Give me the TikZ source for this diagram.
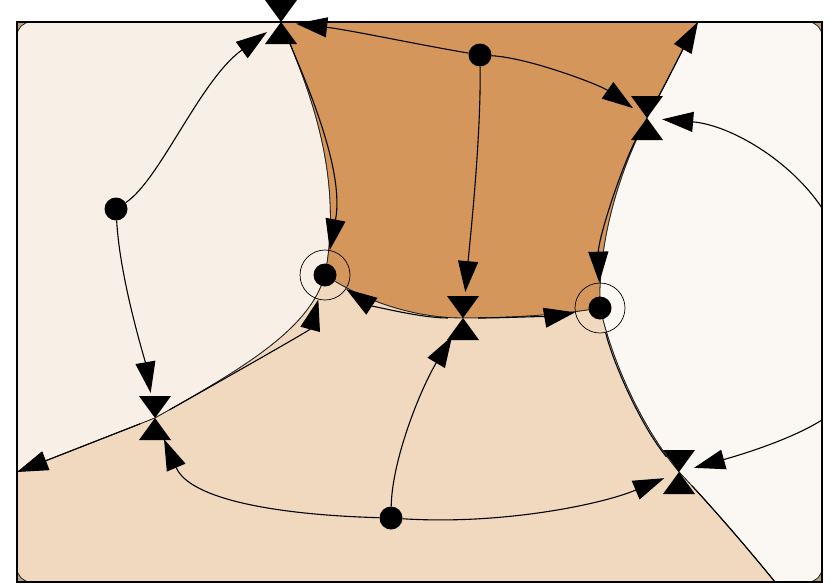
\documentclass[tikz,border=0pt]{standalone}
\usetikzlibrary{arrows.meta,shapes.geometric}
\definecolor{brownreg}{RGB}{212,150,90}
\definecolor{lightreg}{RGB}{248,240,230}
\definecolor{rightreg}{RGB}{251,248,243}
\definecolor{tanreg}{RGB}{240,217,190}
\definecolor{cornercol}{RGB}{190,160,120}
\begin{document}
\begin{tikzpicture}[x=1pt,y=-1pt,
  conn/.style={line width=1.1pt, draw=black},
  arr/.style={conn, -{Triangle[length=31pt,width=20pt]}},
  saddle/.style={ellipse, minimum width=30pt, minimum height=52pt, inner sep=0pt},
  fixpt/.style={circle, fill=black, minimum size=23pt, inner sep=0pt},
  ringpt/.style={circle, draw=black, line width=0.7pt, minimum size=50pt, inner sep=0pt},
  border/.style={draw=black!85, line width=0.8pt}
]
\useasboundingbox (0,0) rectangle (830,584);
\fill[white] (0,0) rectangle (830,584);
\fill[cornercol] (17,22) rectangle (822,582);
% top-left region
\path[fill=lightreg, border] (17,300) [rounded corners=14pt] -- (17,22) -- (150,22) [sharp corners] -- (281,22)
  .. controls (305,80) and (345,170) .. (325,275)
  .. controls (310,330) and (240,370) .. (155,418) -- (17,472) -- cycle;
% brown region
\path[fill=brownreg, border] (281,22) -- (698,22)
  .. controls (685,45) and (665,85) .. (647,118)
  .. controls (620,170) and (598,240) .. (600,308)
  .. controls (560,315) and (510,318) .. (463,318)
  .. controls (420,318) and (370,305) .. (325,275)
  .. controls (345,170) and (305,80) .. (281,22) -- cycle;
% right region
\path[fill=rightreg, border] (698,22) -- (760,22) [rounded corners=14pt] -- (822,22) -- (822,582) -- (800,582) [sharp corners] -- (775,582)
  .. controls (745,545) and (710,505) .. (679,472)
  .. controls (640,425) and (612,360) .. (600,308)
  .. controls (598,240) and (620,170) .. (647,118)
  .. controls (665,85) and (685,45) .. (698,22) -- cycle;
% bottom region
\path[fill=tanreg, border] (17,472) -- (17,530) [rounded corners=14pt] -- (17,582) -- (400,582) [sharp corners] -- (775,582)
  .. controls (745,545) and (710,505) .. (679,472)
  .. controls (640,425) and (612,360) .. (600,308)
  .. controls (560,315) and (510,318) .. (463,318)
  .. controls (420,318) and (370,305) .. (325,275)
  .. controls (310,330) and (240,370) .. (155,418) -- cycle;
\draw[line width=1.3pt] (17,22) rectangle (822,582);

% nodes
\node[fixpt] (A) at (480,55) {};
\node[fixpt] (B) at (116,209) {};
\node[ringpt] (C) at (325,275) {};
\node[ringpt] (D) at (600,308) {};
\node[fixpt] (Cdot) at (C.center) {};
\node[fixpt] (Ddot) at (D.center) {};
\node[fixpt] (E) at (391,518) {};
\node[saddle] (S1) at (281,22) {};
\node[saddle] (S2) at (647,118) {};
\node[saddle] (S3) at (463,318) {};
\node[saddle] (S4) at (155,418) {};
\node[saddle] (S5) at (679,472) {};
\foreach \s in {S1,S2,S3,S4,S5}
  \fill (\s.center) -- ++(-16,-22) -- ++(32,0) -- cycle
        (\s.center) -- ++(-16,22) -- ++(32,0) -- cycle;
\coordinate (T) at (698,22);
\coordinate (R1) at (822,208);
\coordinate (R2) at (822,420);
\coordinate (L) at (17,472);
\coordinate (Bt) at (775,582);

% connectors
\draw[arr] (A) .. controls (420,45) and (350,30) .. (S1);
\draw[arr] (A) .. controls (530,58) and (600,85) .. (S2);
\draw[arr] (A) .. controls (481,140) and (470,240) .. (S3);
\draw[arr] (B) .. controls (160,180) and (200,80) .. (S1);
\draw[arr] (B) .. controls (120,280) and (145,360) .. (S4);
\draw[arr] (S1) .. controls (305,80) and (345,170) .. (C);
\draw[arr] (S2) .. controls (620,170) and (598,240) .. (D);
\draw[arr] (S2) .. controls (665,85) and (685,45) .. (T);
\draw[arr] (R1) .. controls (790,160) and (730,125) .. (S2);
\draw[arr] (S3) .. controls (420,318) and (370,305) .. (C);
\draw[arr] (S3) .. controls (510,318) and (560,315) .. (D);
\draw[arr] (S4) .. controls (240,370) and (310,330) .. (C);
\draw[arr] (S4) -- (L);
\draw[arr] (E) .. controls (280,515) and (190,500) .. (S4);
\draw[arr] (E) .. controls (392,460) and (420,390) .. (S3);
\draw[arr] (E) .. controls (500,525) and (600,505) .. (S5);
\draw[arr] (R2) .. controls (790,440) and (740,455) .. (S5);
\draw[conn] (D) .. controls (612,360) and (640,425) .. (S5);
\draw[conn] (S5) .. controls (710,505) and (745,545) .. (Bt);
\end{tikzpicture}
\end{document}
